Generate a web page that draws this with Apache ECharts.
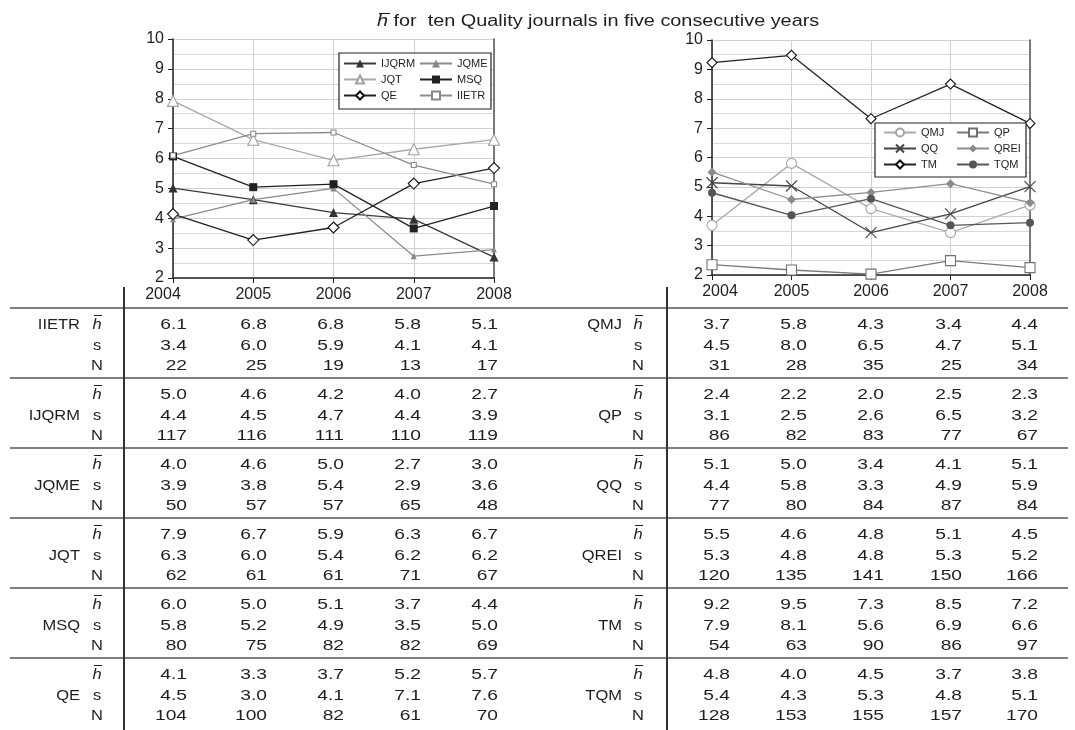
<!DOCTYPE html>
<html><head><meta charset="utf-8">
<script src="https://cdn.jsdelivr.net/npm/echarts@6/dist/echarts.min.js"></script>
<style>html,body{margin:0;padding:0;background:#fff}#c{width:1075px;height:730px}</style>
</head><body><div id="c"></div>
<script>
// ---------- data ----------
const years = ['2004', '2005', '2006', '2007', '2008'];
const yTicks = [2, 3, 4, 5, 6, 7, 8, 9, 10];
const titleText = 'for  ten Quality journals in five consecutive years';

// values plotted
const plotIJQRM = [5.01, 4.62, 4.19, 3.97, 2.70];
const plotJQME  = [3.97, 4.62, 5.00, 2.73, 2.95];
const plotJQT   = [7.93, 6.63, 5.94, 6.31, 6.63];
const plotMSQ   = [6.07, 5.04, 5.14, 3.66, 4.41];
const plotQE    = [4.14, 3.27, 3.69, 5.16, 5.68];
const plotIIETR = [6.10, 6.83, 6.87, 5.78, 5.14];

const plotQMJ  = [3.69, 5.80, 4.26, 3.44, 4.38];
const plotQP   = [2.35, 2.17, 2.03, 2.49, 2.25];
const plotQQ   = [5.14, 5.03, 3.44, 4.08, 5.01];
const plotQREI = [5.50, 4.57, 4.81, 5.11, 4.46];
const plotTM   = [9.23, 9.48, 7.32, 8.50, 7.16];
const plotTQM  = [4.80, 4.03, 4.60, 3.69, 3.78];

// table values: h-bar, s, N
const hIIETR = [6.1, 6.8, 6.8, 5.8, 5.1], sIIETR = [3.4, 6.0, 5.9, 4.1, 4.1], nIIETR = [22, 25, 19, 13, 17];
const hIJQRM = [5.0, 4.6, 4.2, 4.0, 2.7], sIJQRM = [4.4, 4.5, 4.7, 4.4, 3.9], nIJQRM = [117, 116, 111, 110, 119];
const hJQME  = [4.0, 4.6, 5.0, 2.7, 3.0], sJQME  = [3.9, 3.8, 5.4, 2.9, 3.6], nJQME  = [50, 57, 57, 65, 48];
const hJQT   = [7.9, 6.7, 5.9, 6.3, 6.7], sJQT   = [6.3, 6.0, 5.4, 6.2, 6.2], nJQT   = [62, 61, 61, 71, 67];
const hMSQ   = [6.0, 5.0, 5.1, 3.7, 4.4], sMSQ   = [5.8, 5.2, 4.9, 3.5, 5.0], nMSQ   = [80, 75, 82, 82, 69];
const hQE    = [4.1, 3.3, 3.7, 5.2, 5.7], sQE    = [4.5, 3.0, 4.1, 7.1, 7.6], nQE    = [104, 100, 82, 61, 70];
const hQMJ   = [3.7, 5.8, 4.3, 3.4, 4.4], sQMJ   = [4.5, 8.0, 6.5, 4.7, 5.1], nQMJ   = [31, 28, 35, 25, 34];
const hQP    = [2.4, 2.2, 2.0, 2.5, 2.3], sQP    = [3.1, 2.5, 2.6, 6.5, 3.2], nQP    = [86, 82, 83, 77, 67];
const hQQ    = [5.1, 5.0, 3.4, 4.1, 5.1], sQQ    = [4.4, 5.8, 3.3, 4.9, 5.9], nQQ    = [77, 80, 84, 87, 84];
const hQREI  = [5.5, 4.6, 4.8, 5.1, 4.5], sQREI  = [5.3, 4.8, 4.8, 5.3, 5.2], nQREI  = [120, 135, 141, 150, 166];
const hTM    = [9.2, 9.5, 7.3, 8.5, 7.2], sTM    = [7.9, 8.1, 5.6, 6.9, 6.6], nTM    = [54, 63, 90, 86, 97];
const hTQM   = [4.8, 4.0, 4.5, 3.7, 3.8], sTQM   = [5.4, 4.3, 5.3, 4.8, 5.1], nTQM   = [128, 153, 155, 157, 170];

const tableLeft = [
  ['IIETR', hIIETR, sIIETR, nIIETR], ['IJQRM', hIJQRM, sIJQRM, nIJQRM], ['JQME', hJQME, sJQME, nJQME],
  ['JQT', hJQT, sJQT, nJQT], ['MSQ', hMSQ, sMSQ, nMSQ], ['QE', hQE, sQE, nQE]
];
const tableRight = [
  ['QMJ', hQMJ, sQMJ, nQMJ], ['QP', hQP, sQP, nQP], ['QQ', hQQ, sQQ, nQQ],
  ['QREI', hQREI, sQREI, nQREI], ['TM', hTM, sTM, nTM], ['TQM', hTQM, sTQM, nTQM]
];

// ---------- styles ----------
const FONT = 'Liberation Sans, Arial, sans-serif';
const TXT = '#1e1e1e';

function lineSeries(name, data, idx, lineColor, symbol, size, fill, border) {
  return {
    name, type: 'line', data, xAxisIndex: idx, yAxisIndex: idx * 2,
    symbol, symbolSize: size, showSymbol: true,
    lineStyle: { color: lineColor, width: 1.3 },
    itemStyle: { color: fill, borderColor: border || fill, borderWidth: border ? 1.1 : 0 },
    emphasis: { disabled: true }, animation: false, z: 3
  };
}
const X_PATH = 'path://M0,0L10,10M10,0L0,10';

const series = [
  lineSeries('IJQRM', plotIJQRM, 0, '#3a3a3a', 'triangle', 9, '#333'),
  lineSeries('JQME', plotJQME, 0, '#8a8a8a', 'triangle', 6, '#888'),
  lineSeries('JQT', plotJQT, 0, '#a8a8a8', 'triangle', 11, '#fff', '#a0a0a0'),
  lineSeries('MSQ', plotMSQ, 0, '#222', 'rect', 8, '#222'),
  lineSeries('QE', plotQE, 0, '#222', 'diamond', 11, '#fff', '#111'),
  lineSeries('IIETR', plotIIETR, 0, '#8c8c8c', 'rect', 5, '#fff', '#888'),
  lineSeries('QMJ', plotQMJ, 1, '#ababab', 'circle', 10, '#fff', '#a5a5a5'),
  lineSeries('QP', plotQP, 1, '#7a7a7a', 'rect', 10, '#fff', '#707070'),
  lineSeries('QQ', plotQQ, 1, '#444', X_PATH, 11, 'rgba(0,0,0,0)', '#444'),
  lineSeries('QREI', plotQREI, 1, '#8e8e8e', 'diamond', 9, '#8a8a8a'),
  lineSeries('TM', plotTM, 1, '#222', 'diamond', 10, '#fff', '#111'),
  lineSeries('TQM', plotTQM, 1, '#555', 'circle', 8, '#555')
];

function xAxisCfg(gi, firstPad) {
  return {
    type: 'category', data: years, gridIndex: gi, boundaryGap: false,
    axisLine: { lineStyle: { color: '#222', width: 1.5 } },
    axisTick: { show: true, length: 5, lineStyle: { color: '#222' } },
    axisLabel: {
      color: TXT, fontSize: 16, fontFamily: FONT, margin: 9,
      formatter: (v, i) => (i === 0 ? '{f|' + v + '}' : v),
      rich: { f: { fontSize: 16, fontFamily: FONT, color: TXT, padding: firstPad } }
    },
    splitLine: { show: true, lineStyle: { color: '#d2d2d2', width: 1 } }
  };
}
function yAxisCfg(gi) {
  return {
    type: 'value', gridIndex: gi, min: yTicks[0], max: yTicks[yTicks.length - 1], interval: 1,
    axisLine: { show: true, lineStyle: { color: '#222', width: 1.5 } },
    axisTick: { show: true, length: 5, lineStyle: { color: '#222' } },
    axisLabel: { color: TXT, fontSize: 16, fontFamily: FONT, margin: 9 },
    splitLine: { show: true, lineStyle: { color: '#d2d2d2', width: 1 } },
    minorTick: { show: false, splitNumber: 2 },
    minorSplitLine: { show: true, lineStyle: { color: '#d8d8d8', width: 1 } }
  };
}
function rightBorder(gi) {
  return {
    type: 'value', gridIndex: gi, position: 'right', min: yTicks[0], max: yTicks[yTicks.length - 1],
    axisLine: { show: true, lineStyle: { color: '#555', width: 1.5 } },
    axisTick: { show: false }, axisLabel: { show: false }, splitLine: { show: false }
  };
}

const legendBase = {
  orient: 'vertical', itemWidth: 32, itemHeight: 10, itemGap: 5, padding: 0,
  selectedMode: false, z: 20,
  textStyle: { fontSize: 11, color: TXT, fontFamily: FONT, lineHeight: 11 }
};

// ---------- table & title as graphic text ----------
const colL = [187, 267, 344, 421, 498];
const colR = [730, 807, 884, 962, 1038];
const T_TOP = 308, GROUP_H = 70, ROW_OFF = [17, 37.5, 58];
const NUM_SX = 1.28, NAME_SX = 1.1;
const elements = [];
function txt(x, y, text, align, sx, italic) {
  elements.push({
    type: 'text', silent: true, z: 30, x, y, scaleX: sx,
    style: { x: 0, y: 0, text, align, verticalAlign: 'middle', fill: TXT,
      fontSize: 15, fontFamily: FONT, fontStyle: italic ? 'italic' : 'normal' }
  });
}
function seg(x1, y1, x2, y2, color, w) {
  elements.push({ type: 'line', silent: true, z: 30, shape: { x1, y1, x2, y2 },
    style: { stroke: color, lineWidth: w } });
}
function hbar(x, y) {   // italic h with a bar above it
  txt(x, y, 'h', 'center', NAME_SX, true);
  seg(x - 3, y - 9.5, x + 5, y - 9.5, TXT, 1);
}
seg(10, T_TOP, 1068, T_TOP, '#555', 1.6);
for (let g = 1; g < 6; g++) seg(10, T_TOP + g * GROUP_H, 1068, T_TOP + g * GROUP_H, '#555', 1.6);
seg(124, 287, 124, 730, '#333', 2);
seg(667, 287, 667, 730, '#333', 2);

function drawTable(tbl, nameX, symX, cols) {
  tbl.forEach((row, g) => {
    const base = T_TOP + g * GROUP_H;
    const [name, h, s, n] = row;
    txt(nameX, base + (g === 0 ? ROW_OFF[0] : ROW_OFF[1]), name, 'right', NAME_SX);
    hbar(symX, base + ROW_OFF[0]);
    txt(symX, base + ROW_OFF[1], 's', 'center', NAME_SX);
    txt(symX, base + ROW_OFF[2], 'N', 'center', NAME_SX);
    for (let i = 0; i < 5; i++) {
      txt(cols[i], base + ROW_OFF[0], h[i].toFixed(1), 'right', NUM_SX);
      txt(cols[i], base + ROW_OFF[1], s[i].toFixed(1), 'right', NUM_SX);
      txt(cols[i], base + ROW_OFF[2], String(n[i]), 'right', NUM_SX);
    }
  });
}
drawTable(tableLeft, 80, 97, colL);
drawTable(tableRight, 622, 638, colR);

// title
elements.push({
  type: 'text', silent: true, z: 30, x: 377, y: 21.5, scaleX: 1.24,
  style: { x: 0, y: 0, text: '{i|h} ' + titleText, align: 'left', verticalAlign: 'middle',
    fill: TXT, fontSize: 16, fontFamily: FONT,
    rich: { i: { fontStyle: 'italic', fontSize: 16, fontFamily: FONT, fill: TXT } } }
});
seg(379, 13.5, 390, 13.5, TXT, 1.1);

// legend frames
elements.push({ type: 'rect', silent: true, z: 15, shape: { x: 339, y: 53, width: 152, height: 56 },
  style: { fill: '#fff', stroke: '#222', lineWidth: 1.2 } });
elements.push({ type: 'rect', silent: true, z: 15, shape: { x: 875, y: 123, width: 151, height: 54 },
  style: { fill: '#fff', stroke: '#222', lineWidth: 1.2 } });

const option = {
  backgroundColor: '#fff',
  animation: false,
  grid: [
    { left: 173, top: 39, width: 321, height: 239 },
    { left: 712, top: 40, width: 318, height: 235 }
  ],
  xAxis: [xAxisCfg(0, [0, 20, 0, 0]), xAxisCfg(1, [0, 0, 0, 16])],
  yAxis: [yAxisCfg(0), rightBorder(0), yAxisCfg(1), rightBorder(1)],
  legend: [
    Object.assign({}, legendBase, { data: ['IJQRM', 'JQT', 'QE'], left: 343, top: 58 }),
    Object.assign({}, legendBase, { data: ['JQME', 'MSQ', 'IIETR'], left: 419, top: 58 }),
    Object.assign({}, legendBase, { data: ['QMJ', 'QQ', 'TM'], left: 883, top: 127 }),
    Object.assign({}, legendBase, { data: ['QP', 'QREI', 'TQM'], left: 956, top: 127 })
  ],
  series,
  graphic: { elements }
};
const chart = echarts.init(document.getElementById('c'), null, { renderer: 'canvas' });
chart.setOption(option);
</script></body></html>
